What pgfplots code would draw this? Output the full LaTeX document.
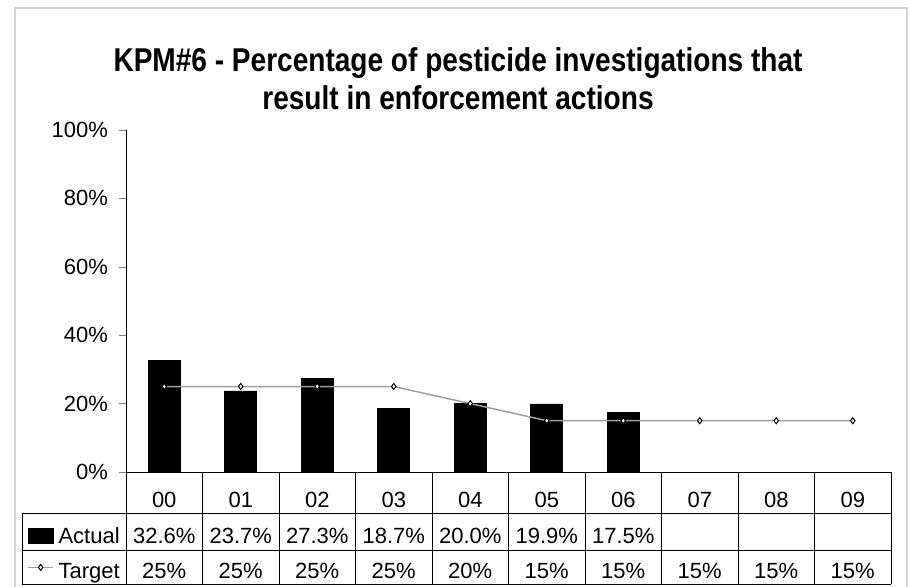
\documentclass[border=0pt]{standalone}
\usepackage{fontspec}
\setmainfont{Liberation Sans}
\newfontfamily\titlefont[FakeStretch=0.85]{Liberation Sans}
\usepackage{pgfplots}
\pgfplotsset{compat=1.18}
\newcommand\tf{\fontsize{11}{13}\selectfont}
\newcommand\yf{\fontsize{11}{13}\selectfont}

\begin{document}
\begin{tikzpicture}
  % layout in pixels of the reference (1px = 0.5pt), y downwards
  \begin{scope}[x=0.5pt, y=-0.5pt]
    \useasboundingbox (0,0) rectangle (910,587);
    \draw[gray!35, line width=1pt] (15,8) rectangle (907,600);
    \node[anchor=base, font=\titlefont\bfseries\fontsize{16.5}{19}\selectfont]
      at (458,72) {KPM\#6 - Percentage of pesticide investigations that};
    \node[anchor=base, font=\titlefont\bfseries\fontsize{16.5}{19}\selectfont]
      at (458,110) {result in enforcement actions};
  \end{scope}

  \begin{axis}[
      at={(63pt,-236pt)}, anchor=south west,
      scale only axis, width=382.5pt, height=171pt,
      xmin=-0.5, xmax=9.5, ymin=0, ymax=100,
      axis lines*=left, axis line style={-, line width=0.5pt},
      tick align=outside, major tick length=3.5pt,
      ytick={0,20,...,100},
      yticklabel={\pgfmathprintnumber{\tick}\%},
      yticklabel style={font=\yf, xshift=-2pt},
      xtick={0,...,9},
      xticklabels={00,01,02,03,04,05,06,07,08,09},
      x tick style={draw=none},
      xticklabel style={font=\tf, anchor=base, yshift=-14pt},
      /pgf/number format/assume math mode=true,
      legend style={at={(-0.12941,-0.15643)}, anchor=north west,
                    draw=none, fill=none, inner sep=0pt,
                    row sep=5.75pt, column sep=0pt,
                    nodes={inner sep=0pt}},
      clip=false,
    ]
    \addplot[ybar, bar width=16pt, fill=black, draw=black,
             legend image code/.code={\path[draw=none, fill=none] (0pt,-5pt) rectangle (12.5pt,5pt);
               \fill[black] (0pt,-3.75pt) rectangle (12.5pt,3.75pt);}]
      coordinates {(0,32.6)(1,23.7)(2,27.3)(3,18.7)(4,20.0)(5,19.9)(6,17.5)};
    \addlegendentry{}

    \addplot[color=gray!75, line width=0.75pt, mark=diamond*, mark size=1.5pt,
             mark options={fill=white, draw=black, line width=0.5pt},
             legend image code/.code={\path[draw=none, fill=none] (0pt,-5pt) rectangle (12.5pt,5pt);
               \draw[gray!75, line width=0.75pt] (0pt,0pt) -- (12.5pt,0pt);
               \draw[black, fill=white, line width=0.5pt]
               (6.25pt,1.5pt) -- (7.375pt,0pt) -- (6.25pt,-1.5pt) -- (5.125pt,0pt) -- cycle;}]
      coordinates {(0,25)(1,25)(2,25)(3,25)(4,20)(5,15)(6,15)(7,15)(8,15)(9,15)};
    \addlegendentry{}
  \end{axis}

  % data table below the axis
  \begin{scope}[x=0.5pt, y=-0.5pt, line width=0.5pt]
    \draw (126,472) -- (126,584);
    \foreach \i in {1,...,10} \draw ({126+\i*76.5},472) -- ({126+\i*76.5},584);
    \draw (22,513) -- (891,513);
    \draw (22,550) -- (891,550);
    \draw (22,584) -- (891,584);
    \draw (22,513) -- (22,584);
    \node[anchor=base west, font=\tf, inner sep=0pt] at (58,543) {Actual};
    \node[anchor=base west, font=\tf, inner sep=0pt] at (58,578) {Target};
    \foreach \v [count=\i from 0] in {32.6\%,23.7\%,27.3\%,18.7\%,20.0\%,19.9\%,17.5\%}
      \node[anchor=base, font=\tf, inner sep=0pt] at ({126+(\i+0.5)*76.5},543) {\v};
    \foreach \v [count=\i from 0] in {25\%,25\%,25\%,25\%,20\%,15\%,15\%,15\%,15\%,15\%}
      \node[anchor=base, font=\tf, inner sep=0pt] at ({126+(\i+0.5)*76.5},578) {\v};
  \end{scope}
\end{tikzpicture}
\end{document}
